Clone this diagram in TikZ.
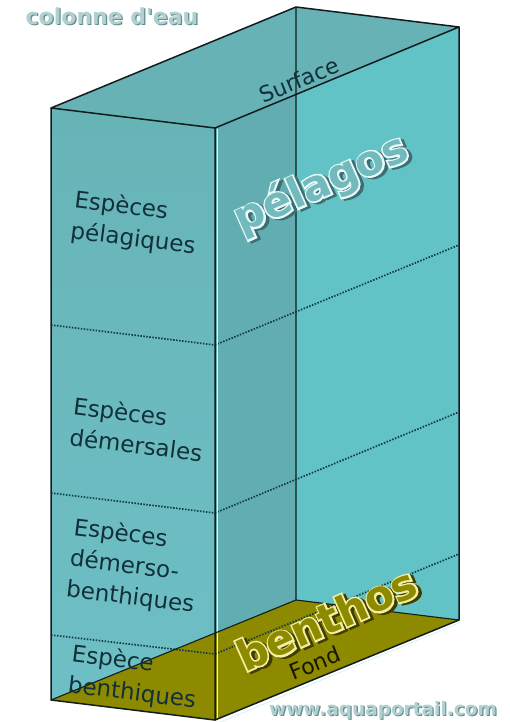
\documentclass[tikz,border=0pt]{standalone}
\usepackage{fontspec}
\setmainfont{DejaVu Sans}
\newfontfamily\wmfont[Ligatures=TeXOff,BoldFont=DejaVu Sans Bold]{DejaVu Sans}
\newfontfamily\bigfont{DejaVu Sans Bold}
\newfontfamily\bigoutfont[FakeBold=8]{DejaVu Sans Bold}
\usetikzlibrary{calc}
\definecolor{edgec}{HTML}{121C1E}
\definecolor{topc}{HTML}{66B2B5}
\definecolor{frontc}{HTML}{67B4B7}
\definecolor{frontlow}{HTML}{6EC0C6}
\definecolor{rightc}{HTML}{62C3C7}
\definecolor{stripc}{HTML}{62ADB1}
\definecolor{floorc}{HTML}{8D8A00}
\definecolor{dotc}{HTML}{123C40}
\definecolor{labelc}{HTML}{12303A}
\definecolor{wmfill}{HTML}{B2D0D0}
\definecolor{wmshadow}{HTML}{5F8F8F}
\definecolor{pelfill}{HTML}{72BABE}
\definecolor{pelout}{HTML}{E8FAFA}
\definecolor{pelshadow}{HTML}{3C6E72}
\definecolor{benfill}{HTML}{8D8A00}
\definecolor{benout}{HTML}{F4EFA0}
\definecolor{benshadow}{HTML}{3F3D00}
\newcommand\halotext[4]{% #1 fill, #2 outline, #3 shadow, #4 text
  \makebox[0pt][l]{\kern2.6pt\raisebox{-2.6pt}{\bigoutfont\textcolor{#3}{#4}}}%
  \makebox[0pt][l]{\bigoutfont\textcolor{#2}{#4}}%
  {\bigfont\textcolor{#1}{#4}}%
}
\newcommand\shadowtext[3]{% #1 fill, #2 shadow, #3 text
  \makebox[0pt][l]{\kern1.2pt\raisebox{-1.2pt}{\textcolor{#2}{#3}}}%
  \textcolor{#1}{#3}%
}
\begin{document}
\begin{tikzpicture}[x=1pt,y=-1pt,
  edge/.style={draw=edgec,line width=1.5pt,line join=round},
  dotline/.style={draw=dotc,line width=1.7pt,dash pattern=on 1.5pt off 1.5pt},
  label/.style={text=labelc,font=\fontsize{23}{31}\selectfont,align=left,inner sep=0pt,rotate=-7},
  big/.style={font=\fontsize{42}{48}\selectfont,inner sep=0pt,rotate=24},
  water/.style={font=\wmfont\fontsize{22}{26}\bfseries\selectfont,inner sep=0pt}]
\useasboundingbox (0,0) rectangle (510,722);
% corners
\coordinate (FLT) at (51,108);
\coordinate (FRT) at (215,128);
\coordinate (BRT) at (459,27);
\coordinate (BLT) at (296,7);
\coordinate (FLB) at (51,700);
\coordinate (FRB) at (215,720);
\coordinate (BRB) at (459,620);
\coordinate (BLB) at (296,600);
\coordinate (SB) at (215,633);
\coordinate (ST) at (296,94.5);
% faces
\fill[rightc] (FRT) -- (BRT) -- (BRB) -- (FRB) -- cycle;
\fill[stripc] (FRT) -- (ST) -- (BLB) -- (SB) -- cycle;
\shade[top color=frontc,bottom color=frontlow] (FLT) -- (FRT) -- (FRB) -- (FLB) -- cycle;
\fill[topc] (FLT) -- (BLT) -- (BRT) -- (FRT) -- cycle;
\fill[floorc] (FLB) -- (FRB) -- (BRB) -- (BLB) -- cycle;
% dotted level lines
\coordinate (D1L) at (51,325); \coordinate (D1M) at (215,345); \coordinate (D1R) at (459,245);
\coordinate (D2L) at (51,493); \coordinate (D2M) at (215,513); \coordinate (D2R) at (459,412);
\coordinate (D3L) at (51,635); \coordinate (D3M) at (215,654); \coordinate (D3R) at (459,554);
\draw[dotline] (D1L) -- (D1M) -- (D1R);
\draw[dotline] (D2L) -- (D2M) -- (D2R);
\draw[dotline] (D3L) -- (D3M) -- (D3R);
% highlights
\draw[white!80!rightc,line width=0.9pt] ($(FRT)+(2.2,1)$) -- ($(FRB)+(2.2,-2)$);
\draw[white!75!rightc,line width=0.8pt] ($(FRB)+(3,3)$) -- ($(BRB)+(0,3)$);
% edges
\draw[edge,line width=1.1pt] (BLT) -- (BLB) -- (BRB);
\draw[edge,line width=1.1pt] (FLB) -- (BLB);
\draw[edge] (FLT) -- (BLT) -- (BRT) -- (FRT) -- cycle;
\draw[edge] (FLT) -- (FLB) -- (FRB) -- (FRT);
\draw[edge] (BRT) -- (BRB) -- (FRB);
% texts
\node[water] (title) at (112,17) {\shadowtext{wmfill}{wmshadow}{colonne d'eau}};
\node[text=labelc,font=\fontsize{22}{26}\selectfont,inner sep=0pt,rotate=22.5] (surf) at (299,80) {Surface};
\node[big] (pel) at (322,186) {\halotext{pelfill}{pelout}{pelshadow}{pélagos}};
\node[label] (l1) at (135,224) {Espèces\\pélagiques};
\node[label] (l2) at (138,429) {Espèces\\démersales};
\node[label] (l3) at (134,567) {Espèces\\démerso-\\benthiques};
\node[label] (l4) at (134,678) {Espèce\\benthiques};
\node[big] (ben) at (327,620) {\halotext{benfill}{benout}{benshadow}{benthos}};
\node[text=black!85!floorc,font=\fontsize{22}{26}\selectfont,inner sep=0pt,rotate=22] (fond) at (315,663) {Fond};
\node[water,font=\wmfont\fontsize{18.5}{22}\bfseries\selectfont] (www) at (383,711) {\shadowtext{wmfill}{wmshadow}{www.aquaportail.com}};
\end{tikzpicture}
\end{document}
